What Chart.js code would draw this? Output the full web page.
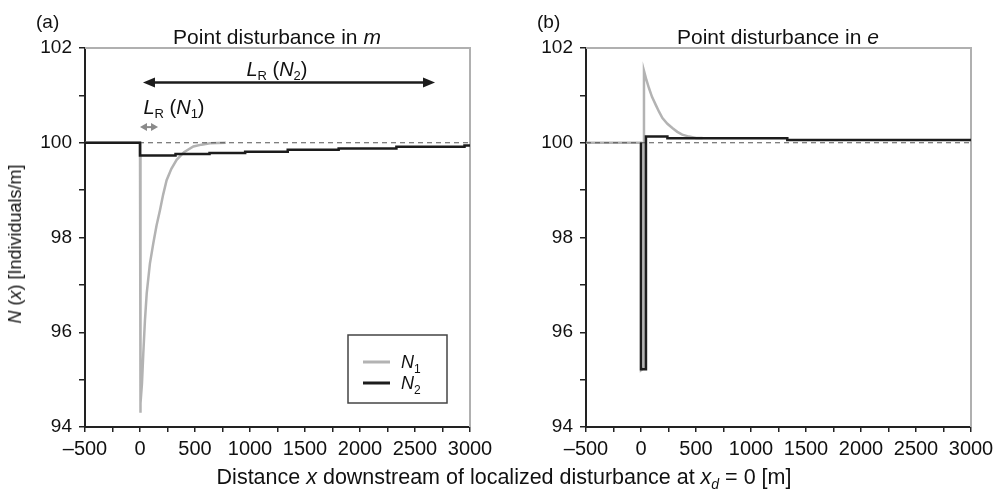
<!DOCTYPE html>
<html>
<head>
<meta charset="utf-8">
<script src="https://cdn.jsdelivr.net/npm/chart.js@4"></script>
<style>
  body { margin: 0; background: #fff; width: 1005px; height: 497px; position: relative; overflow: hidden;
         font-family: "Liberation Sans", Arial, sans-serif; color: #111; }
  .panel { position: absolute; top: 0; height: 497px; }
  .txt { position: absolute; white-space: nowrap; line-height: 1; }
  .ctr { transform: translateX(-50%); }
</style>
</head>
<body>
<div class="panel" style="left:0;width:500px"><canvas id="chartA"></canvas></div>
<div class="panel" style="left:500px;width:505px"><canvas id="chartB"></canvas></div>

<div class="txt" style="left:36px;top:12px;font-size:19px">(a)</div>
<div class="txt" style="left:537px;top:12px;font-size:19px">(b)</div>
<div class="txt ctr" style="left:277px;top:26px;font-size:21px">Point disturbance in <i>m</i></div>
<div class="txt ctr" style="left:778px;top:26px;font-size:21px">Point disturbance in <i>e</i></div>
<div class="txt" style="left:15px;top:244px;font-size:18px;transform:translate(-50%,-50%) rotate(-90deg)"><i>N</i> (<i>x</i>) [Individuals/m]</div>
<div class="txt ctr" style="left:504px;top:467px;font-size:21.5px">Distance <i>x</i> downstream of localized disturbance at <i>x</i><span style="font-size:14px;position:relative;top:5px"><i>d</i></span> = 0 [m]</div>

<script>
// panel (a): point disturbance in m
const xA_N1 = [-500, 0, 0, 9, 18, 30, 45, 61, 90, 121, 150, 182, 210, 242, 285, 333, 400, 485, 560, 636, 780];
const yA_N1 = [100, 100, 94.3, 94.5, 94.92, 95.55, 96.25, 96.82, 97.45, 97.88, 98.25, 98.58, 98.9, 99.21, 99.45, 99.64, 99.8, 99.92, 99.96, 99.99, 100];
const xA_N2 = [-500, 0, 0, 323, 632, 956, 1343, 1806, 2331, 2950, 3000];
const yA_N2 = [100, 100, 99.73, 99.76, 99.785, 99.81, 99.85, 99.88, 99.915, 99.94, 99.94];

// panel (b): point disturbance in e
const xB_N1 = [-500, 0, 0, 27, 27, 50, 73, 100, 134, 165, 195, 240, 285, 330, 375, 437, 500, 560];
const yB_N1 = [100, 100, 95.2, 95.25, 101.52, 101.32, 101.15, 100.97, 100.8, 100.65, 100.52, 100.4, 100.31, 100.23, 100.17, 100.13, 100.1, 100.1];
const xB_N2 = [0, 0, 45, 45, 240, 1330, 3000];
const yB_N2 = [100, 95.22, 95.3, 100.13, 100.095, 100.06, 100.06];

// reference level (dashed)
const xRef = [-500, 3000];
const yRef = [100, 100];

// axes
const xMin = -500, xMax = 3000, xStep = 250, xLabelEvery = 500;
const yMin = 94, yMax = 102, yStep = 1, yLabelEvery = 2;

// recovery-length arrows in panel (a)
const arrowFromX = [27, 0];
const arrowToX = [2682, 164];
const arrowY = [101.27, 100.33];
const arrowLabelX = [1245, 309];
const arrowLabelY = [101.40, 100.60];

const GRAY = '#b3b3b3';
const BLACK = '#1c1c1c';
const FONT = '"Liberation Sans", Arial, sans-serif';

const zip = (xs, ys) => xs.map((x, i) => ({ x: x, y: ys[i] }));

const richText = (ctx, parts, x, y) => {
  let w = 0;
  parts.forEach(p => { ctx.font = p[1]; w += ctx.measureText(p[0]).width; });
  let cx = x - w / 2;
  ctx.textBaseline = 'alphabetic';
  ctx.textAlign = 'left';
  parts.forEach(p => {
    ctx.font = p[1];
    ctx.fillText(p[0], cx, y + (p[2] || 0));
    cx += ctx.measureText(p[0]).width;
  });
};

const drawArrow = (ctx, x1, x2, y, color, width, head, half) => {
  ctx.save();
  ctx.strokeStyle = color;
  ctx.fillStyle = color;
  ctx.lineWidth = width;
  ctx.beginPath();
  ctx.moveTo(x1 + head * 0.8, y);
  ctx.lineTo(x2 - head * 0.8, y);
  ctx.stroke();
  ctx.beginPath();
  ctx.moveTo(x1, y); ctx.lineTo(x1 + head, y - half); ctx.lineTo(x1 + head, y + half); ctx.closePath();
  ctx.moveTo(x2, y); ctx.lineTo(x2 - head, y - half); ctx.lineTo(x2 - head, y + half); ctx.closePath();
  ctx.fill();
  ctx.restore();
};

const deco = {
  id: 'deco',
  beforeDatasetsDraw(chart) {
    const { ctx, chartArea: a } = chart;
    ctx.save();
    ctx.strokeStyle = '#b0b0b0';
    ctx.lineWidth = 2;
    ctx.beginPath();
    ctx.moveTo(a.left, a.top);
    ctx.lineTo(a.right, a.top);
    ctx.lineTo(a.right, a.bottom);
    ctx.stroke();
    ctx.restore();
  },
  afterDatasetsDraw(chart, args, opts) {
    const { ctx, chartArea: a } = chart;
    const sx = chart.scales.x, sy = chart.scales.y;
    ctx.save();
    ctx.fillStyle = '#111';
    if (opts.arrows) {
      const big = 'italic 20px ' + FONT, reg = '20px ' + FONT, sub = '13px ' + FONT;
      drawArrow(ctx, sx.getPixelForValue(arrowFromX[0]), sx.getPixelForValue(arrowToX[0]),
        sy.getPixelForValue(arrowY[0]), BLACK, 2.5, 12, 5);
      drawArrow(ctx, sx.getPixelForValue(arrowFromX[1]), sx.getPixelForValue(arrowToX[1]),
        sy.getPixelForValue(arrowY[1]), '#8a8a8a', 2, 7, 4);
      ctx.fillStyle = '#111';
      richText(ctx, [['L', big], ['R', sub, 4], [' (', reg], ['N', big], ['2', sub, 4], [')', reg]],
        sx.getPixelForValue(arrowLabelX[0]), sy.getPixelForValue(arrowLabelY[0]));
      richText(ctx, [['L', big], ['R', sub, 4], [' (', reg], ['N', big], ['1', sub, 4], [')', reg]],
        sx.getPixelForValue(arrowLabelX[1]), sy.getPixelForValue(arrowLabelY[1]));
    }
    if (opts.legend) {
      const w = 99, h = 68;
      const left = a.right - 23 - w, top = a.bottom - 24 - h;
      ctx.strokeStyle = '#444';
      ctx.lineWidth = 1.5;
      ctx.strokeRect(left, top, w, h);
      const rows = [[GRAY, '1', 27], [BLACK, '2', 48]];
      rows.forEach(r => {
        ctx.strokeStyle = r[0];
        ctx.lineWidth = 3;
        ctx.beginPath();
        ctx.moveTo(left + 15, top + r[2]);
        ctx.lineTo(left + 42, top + r[2]);
        ctx.stroke();
        ctx.fillStyle = '#111';
        ctx.textAlign = 'left';
        ctx.textBaseline = 'alphabetic';
        ctx.font = 'italic 18px ' + FONT;
        ctx.fillText('N', left + 53, top + r[2] + 6);
        const nw = ctx.measureText('N').width;
        ctx.font = '12px ' + FONT;
        ctx.fillText(r[1], left + 53 + nw, top + r[2] + 11);
      });
    }
    ctx.restore();
  }
};

const makePanel = (id, n1, n2, yWidth, padRight, decoOpts) => new Chart(document.getElementById(id), {
  type: 'line',
  data: {
    datasets: [
      { data: n2, borderColor: BLACK, borderWidth: 2.5, stepped: true, order: 0 },
      { data: zip(xRef, yRef), borderColor: '#555', borderWidth: 1.2, borderDash: [5, 4], order: 1 },
      { data: n1, borderColor: GRAY, borderWidth: 2.5, order: 2 }
    ]
  },
  options: {
    responsive: true,
    maintainAspectRatio: false,
    animation: false,
    parsing: false,
    layout: { padding: { top: 48, right: padRight, left: 0, bottom: 0 } },
    elements: { point: { radius: 0 }, line: { tension: 0, fill: false, borderCapStyle: 'butt' } },
    plugins: { legend: { display: false }, tooltip: { enabled: false }, deco: decoOpts },
    scales: {
      x: {
        type: 'linear', min: xMin, max: xMax,
        afterFit: (s) => { s.height = 70; },
        border: { display: true, color: '#222', width: 2 },
        grid: { display: true, drawOnChartArea: false, drawTicks: true, tickLength: 5, color: '#222', lineWidth: 1.5 },
        ticks: {
          stepSize: xStep, autoSkip: false, maxRotation: 0, padding: 5, color: '#111',
          font: { size: 20, family: FONT },
          callback: (v) => v % xLabelEvery === 0 ? String(v).replace('-', '\u2013') : ''
        }
      },
      y: {
        type: 'linear', min: yMin, max: yMax,
        afterFit: (s) => { s.width = yWidth; },
        border: { display: true, color: '#222', width: 2 },
        grid: { display: true, drawOnChartArea: false, drawTicks: true, tickLength: 6, color: '#222', lineWidth: 1.5 },
        ticks: {
          stepSize: yStep, autoSkip: false, padding: 7, color: '#111',
          font: { size: 19, family: FONT },
          callback: (v) => v % yLabelEvery === 0 ? String(v) : ''
        }
      }
    }
  },
  plugins: [deco]
});

makePanel('chartA', zip(xA_N1, yA_N1), zip(xA_N2, yA_N2), 85, 30, { arrows: true, legend: true });
makePanel('chartB', zip(xB_N1, yB_N1), zip(xB_N2, yB_N2), 86, 34, { arrows: false, legend: false });
</script>
</body>
</html>
